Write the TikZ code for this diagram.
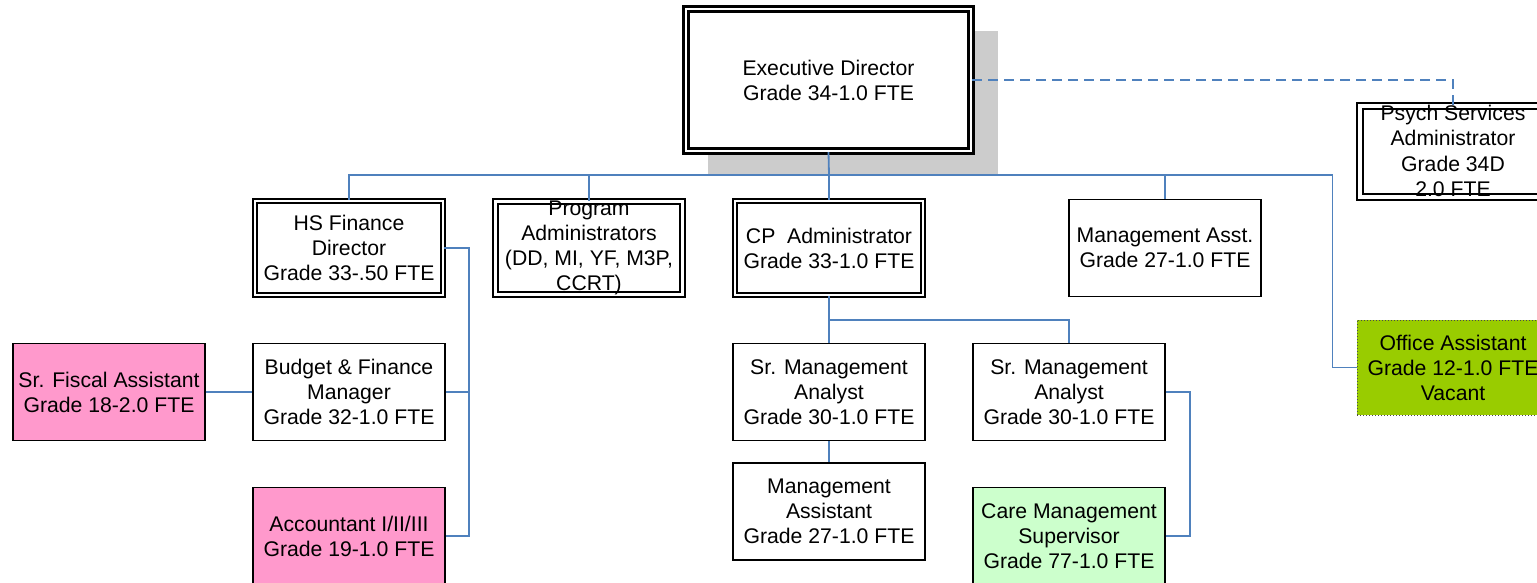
\documentclass[tikz,border=0pt]{standalone}
\usepackage{fontspec}
\setmainfont{Liberation Sans}
\definecolor{linkblue}{RGB}{79,129,189}
\definecolor{pinkfill}{RGB}{255,153,204}
\definecolor{greenfill}{RGB}{204,255,204}
\definecolor{limefill}{RGB}{153,204,0}
\begin{document}
\begin{tikzpicture}[x=1pt,y=-1pt,
	every node/.style={font=\fontsize{21.2}{25}\selectfont,align=center,inner sep=0},
	post/.style={rectangle,draw,line width=1.8pt,minimum width=192pt,minimum height=97pt},
	dbl/.style={post,line width=1.8pt,double=white,double distance=2.4pt},
	conn/.style={draw=linkblue,line width=1.8pt}]
\useasboundingbox (0,0) rectangle (1537,583);
\fill[black!20] (708,31) rectangle (998,175);
\node[dbl,fill=white,minimum width=285pt,minimum height=142pt,line width=2.2pt,double distance=2.8pt] (exec) at (828.5,80) {Executive Director\\Grade 34-1.0 FTE};
\node[dbl,minimum width=186pt,minimum height=91pt,double distance=3.6pt] (psych) at (1453,151.5) {};
\node[font=\fontsize{21.2}{25.6}\selectfont] (psychtxt) at (1453,151) {Psych Services\\Administrator\\Grade 34D\\2.0 FTE};
\node[post,fill=limefill,draw=black!70,line width=1pt,dotted,minimum height=95pt] (office) at (1453,367.5) {Office Assistant\\Grade 12-1.0 FTE\\Vacant};
\node[dbl,minimum width=188pt,minimum height=94pt] (hsfin) at (349,248) {HS Finance\\Director\\Grade 33-.50 FTE};
\node[dbl,minimum width=187pt,minimum height=93pt,double distance=3pt] (prog) at (589,248) {};
\node (progtxt) at (prog) {Program\\Administrators\\(DD, MI, YF, M3P,\\CCRT)};
\node[dbl,minimum width=188pt,minimum height=94pt] (cpadm) at (829,248) {CP~~Administrator\\Grade 33-1.0 FTE};
\node[post] (mgmt) at (1165,248) {Management Asst.\\Grade 27-1.0 FTE};
\node[post] (budget) at (349,392) {Budget \& Finance\\Manager\\Grade 32-1.0 FTE};
\node[post,fill=pinkfill] (fiscal) at (109,392) {Sr. Fiscal Assistant\\Grade 18-2.0 FTE};
\node[post,fill=pinkfill] (acct) at (349,536) {Accountant I/II/III\\Grade 19-1.0 FTE};
\node[post] (srma1) at (829,392) {Sr. Management\\Analyst\\Grade 30-1.0 FTE};
\node[post] (srma2) at (1069,392) {Sr. Management\\Analyst\\Grade 30-1.0 FTE};
\node[post] (mgmtassist) at (829,511.5) {Management\\Assistant\\Grade 27-1.0 FTE};
\node[post,fill=greenfill] (care) at (1069,536) {Care Management\\Supervisor\\Grade 77-1.0 FTE};
\coordinate (bus) at (829,175);
\coordinate (fintrunk) at (469,536);
\coordinate (cpsplit) at (829,320);
\draw[conn] (exec.south) -- (bus);
\foreach \n in {hsfin,prog,cpadm,mgmt}
	\draw[conn] (bus) -| (\n.north);
\draw[conn] (bus) -| ([xshift=-24pt]office.west) -- (office.west);
\draw[conn,dash pattern=on 10pt off 6pt] (exec.east) -| (psych.north);
\draw[conn] (hsfin.east) -| (fintrunk) -- (acct.east);
\draw[conn] (budget.east) -- (budget.east -| fintrunk);
\draw[conn] (fiscal) -- (budget);
\draw[conn] (cpadm.south) -- (srma1.north);
\draw[conn] (cpsplit) -| (srma2.north);
\draw[conn] (srma1) -- (mgmtassist);
\draw[conn] (srma2.east) -- ++(24,0) |- (care.east);
\end{tikzpicture}
\end{document}
